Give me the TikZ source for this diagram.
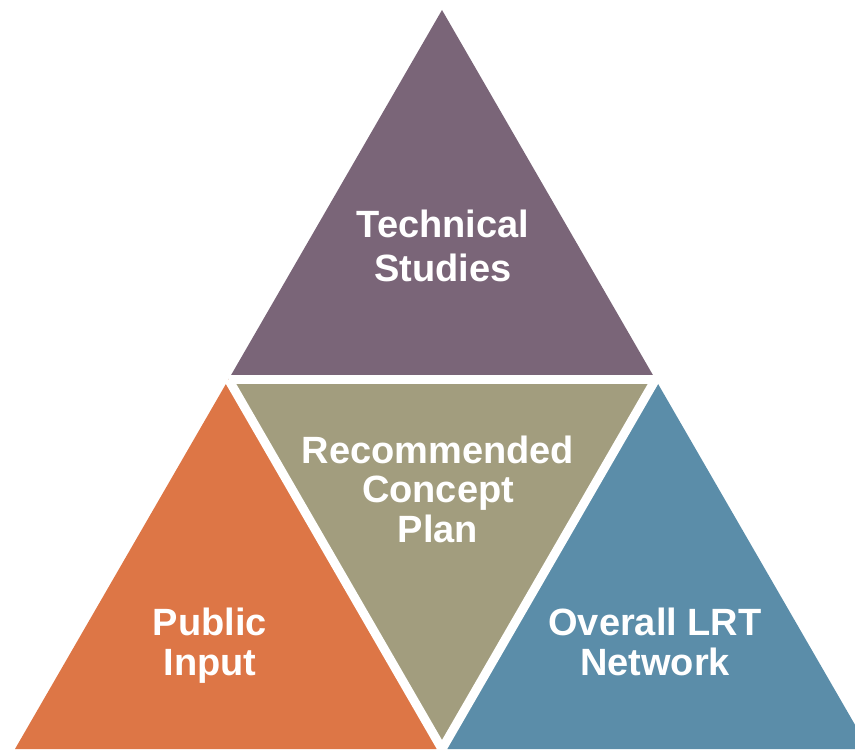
\documentclass[tikz,border=0pt]{standalone}
\usepackage{fontspec}
\setmainfont{Liberation Sans}
\usepackage{tikz}
\usetikzlibrary{calc}

\definecolor{studiespurple}{RGB}{122,101,120}
\definecolor{planolive}{RGB}{162,157,126}
\definecolor{inputorange}{RGB}{221,118,70}
\definecolor{networkblue}{RGB}{91,141,169}

\begin{document}
\begin{tikzpicture}[
        x=1pt, y=-1pt,
        tritext/.style={text=white, align=center, anchor=base, inner sep=0pt,
            font=\fontsize{38}{40}\selectfont\bfseries},
        gap/.style={draw=white, line width=9pt}
    ]
        \useasboundingbox (0,0) rectangle (855,751);
        % outer corners and mid points
        \coordinate (top) at (442,10);
        \coordinate (left) at (15,749);
        \coordinate (right) at (869,749);
        \coordinate (midleft) at (228.5,379.5);
        \coordinate (midright) at (655.5,379.5);
        \coordinate (midbottom) at (442,749);

        \fill[studiespurple] (top) -- (midleft) -- (midright) -- cycle;
        \fill[planolive] (midleft) -- (midright) -- (midbottom) -- cycle;
        \fill[inputorange] (midleft) -- (left) -- (midbottom) -- cycle;
        \fill[networkblue] (midright) -- (midbottom) -- (right) -- cycle;

        % white gaps between the parts
        \draw[gap] (midleft) -- (midright);
        \draw[gap] (midleft) -- ($(midbottom)!-0.02!(midleft)$);
        \draw[gap] (midright) -- ($(midbottom)!-0.02!(midright)$);

        % base anchor sits on the last line
        \node[tritext] (studies) at (443,282) {Technical\\[4pt]Studies};
        \node[tritext] (plan) at (438,543) {Recommended\\Concept\\Plan};
        \node[tritext] (input) at (210,675) {Public\\Input};
        \node[tritext] (network) at (655,675) {Overall LRT\\Network};
    \end{tikzpicture}
\end{document}
